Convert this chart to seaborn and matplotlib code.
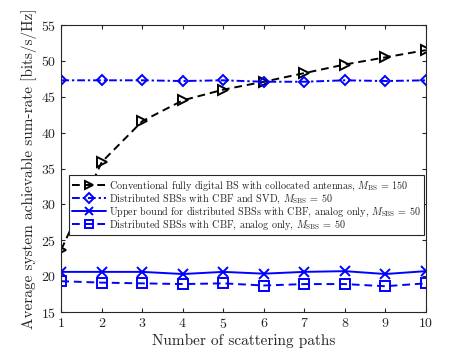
import numpy as np
import pandas as pd
import seaborn as sns
import matplotlib.pyplot as plt

# values
paths = [1, 2, 3, 4, 5, 6, 7, 8, 9, 10]
conventional = [23.7, 35.9, 41.6, 44.5, 46.0, 47.1, 48.3, 49.5, 50.5, 51.5]
cbf_svd = [47.3, 47.3, 47.3, 47.2, 47.3, 47.1, 47.1, 47.3, 47.2, 47.3]
upper_bound = [20.6, 20.6, 20.6, 20.3, 20.6, 20.35, 20.6, 20.7, 20.3, 20.7]
analog_only = [19.3, 19.1, 19.0, 18.9, 19.0, 18.7, 18.9, 18.9, 18.6, 19.0]

labels = [
    r'Conventional fully digital BS with collocated antennas, $M_{\rm BS}$ = 150',
    r'Distributed SBSs with CBF and SVD, $M_{\rm SBS}$ = 50',
    r'Upper bound for distributed SBSs with CBF, analog only, $M_{\rm SBS}$ = 50',
    r'Distributed SBSs with CBF, analog only, $M_{\rm SBS}$ = 50',
]

sns.set_style('ticks')
plt.rcParams['font.family'] = ['cmr10', 'DejaVu Serif']
plt.rcParams['mathtext.fontset'] = 'cm'
plt.rcParams['axes.formatter.use_mathtext'] = True

fig = plt.figure(figsize=(4.71, 3.53), dpi=100)
ax = fig.add_axes([0.13, 0.116, 0.774, 0.813])

styles = [
    (conventional, 'black', (0, (4, 2.5)), '>'),
    (cbf_svd, 'blue', (0, (4, 1.5, 1.2, 1.5)), 'D'),
    (upper_bound, 'blue', '-', 'x'),
    (analog_only, 'blue', (0, (4, 2.5)), 's'),
]
for (vals, col, ls, mk), lab in zip(styles, labels):
    sns.lineplot(x=paths, y=vals, ax=ax, color=col, linestyle=ls, marker=mk,
                 markersize=6.5 if mk != 'D' else 5.5, markerfacecolor='none',
                 markeredgecolor=col, markeredgewidth=1.4, linewidth=1.4,
                 label=lab)

ax.set_xlim(1, 10)
ax.set_ylim(15, 55)
ax.set_xticks(range(1, 11))
ax.set_yticks(range(15, 56, 5))
ax.tick_params(direction='in', top=True, right=True, labelsize=10,
               colors='#262626', length=3)
for s in ax.spines.values():
    s.set_color('#262626')
    s.set_linewidth(0.8)

ax.set_xlabel('Number of scattering paths', fontsize=11, labelpad=2)
ax.set_ylabel('Average system achievable sum-rate [bits/s/Hz]', fontsize=11, labelpad=3)

leg = ax.legend(loc='upper left', bbox_to_anchor=(0.02, 0.477), fontsize=7.3,
                frameon=True, fancybox=False, edgecolor='#262626', framealpha=1,
                handlelength=3.4, handletextpad=0.3, borderpad=0.3,
                labelspacing=-0.12, borderaxespad=0, markerscale=0.85)
leg.get_frame().set_linewidth(0.8)

fig.savefig('out.png', dpi=100)
